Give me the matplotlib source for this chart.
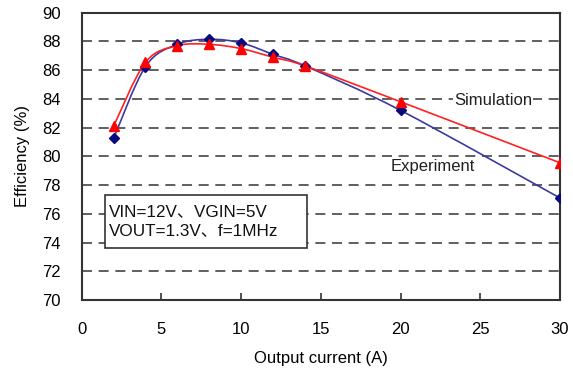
import numpy as np
import matplotlib as mpl
mpl.use('Agg')
from matplotlib import pyplot as plt
from matplotlib.path import Path
from matplotlib.patches import PathPatch, Rectangle

current = [2, 4, 6, 8, 10, 12, 14, 20, 30]
eff_experiment = [81.25, 86.25, 87.8, 88.15, 87.9, 87.1, 86.3, 83.2, 77.1]
eff_simulation = [82.1, 86.55, 87.7, 87.8, 87.5, 86.9, 86.3, 83.8, 79.55]

x_ticks = [0, 5, 10, 15, 20, 25, 30]
y_ticks = [70, 72, 74, 76, 78, 80, 82, 84, 86, 88, 90]

plt.rcParams['font.family'] = ['Liberation Sans', 'Noto Sans CJK SC', 'DejaVu Sans']


def smooth_path(x, y):
    # cubic bezier through every point, catmull-rom style tangents
    p = np.column_stack([x, y]).astype(float)
    n = len(p)
    verts = [p[0]]
    codes = [Path.MOVETO]
    for i in range(n - 1):
        p0 = p[i - 1] if i > 0 else p[i]
        p3 = p[i + 2] if i + 2 < n else p[i + 1]
        c1 = p[i] + (p[i + 1] - p0) / 6
        c2 = p[i + 1] - (p3 - p[i]) / 6
        verts += [c1, c2, p[i + 1]]
        codes += [Path.CURVE4] * 3
    return Path(verts, codes)


def draw_plot():
    fig = plt.figure(figsize=(5.73, 3.74), dpi=100)
    ax = fig.add_axes([0.1426, 0.198, 0.8347, 0.768])

    for yv in y_ticks[1:-1]:
        ax.axhline(yv, color='#444444', lw=1.2, ls=(0, (6, 4)), zorder=1)

    ax.add_patch(PathPatch(smooth_path(current, eff_experiment), fill=False,
                           edgecolor='#3a3aa0', lw=1.2, zorder=3))
    ax.add_patch(PathPatch(smooth_path(current, eff_simulation), fill=False,
                           edgecolor='#ff2020', lw=1.2, zorder=3))
    ax.plot(current, eff_experiment, ls='none', marker='D', ms=5.5,
            color='#0a0a80', zorder=4)
    ax.plot(current, eff_simulation, ls='none', marker='^', ms=7.5,
            color='#ff0000', zorder=5)

    ax.set_xlim(0, 30)
    ax.set_ylim(70, 90)
    ax.set_xticks(x_ticks)
    ax.set_yticks(y_ticks)
    ax.tick_params(axis='x', direction='in', length=5, width=1.2,
                   color='#333333', pad=16, labelsize=12)
    ax.tick_params(axis='y', length=0, pad=15, labelsize=12)
    for s in ax.spines.values():
        s.set_color('#333333')
        s.set_linewidth(1.5)
    ax.spines['left'].set_zorder(6)
    ax.set_xlabel('Output current (A)', fontsize=12, labelpad=10)
    ax.set_ylabel('Efficiency (%)', fontsize=12, labelpad=9)

    ax.text(25.8, 83.9, 'Simulation', fontsize=12, color='#222222',
            ha='center', va='center', zorder=6,
            bbox=dict(facecolor='white', edgecolor='none', pad=1))
    ax.text(22.0, 79.3, 'Experiment', fontsize=12, color='#222222',
            ha='center', va='center', zorder=6,
            bbox=dict(facecolor='white', edgecolor='none', pad=1))

    # condition box
    ax.add_patch(Rectangle((1.46, 73.65), 12.65, 3.65, facecolor='white',
                           edgecolor='#333333', lw=1.2, zorder=6))
    ax.text(1.72, 75.5, 'VIN=12V、VGIN=5V\nVOUT=1.3V、f=1MHz', fontsize=12.3,
            color='#111111', ha='left', va='center', linespacing=1.35,
            zorder=7)

    fig.savefig('out.png', dpi=100)


if __name__ == '__main__':
    draw_plot()
